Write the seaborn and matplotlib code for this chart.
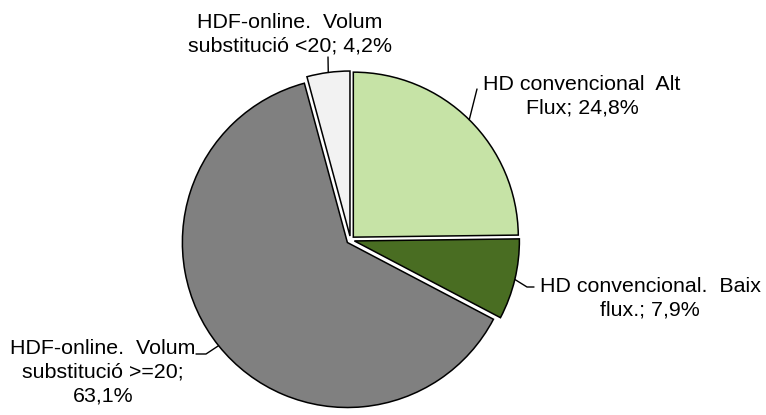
import numpy as np
import matplotlib
matplotlib.use("Agg")
import matplotlib.pyplot as plt
import seaborn as sns

# slices, clockwise from 12 o'clock
names = [
    "HD convencional  Alt\nFlux",
    "HD convencional.  Baix\nflux.",
    "HDF-online.  Volum\nsubstitució >=20",
    "HDF-online.  Volum\nsubstitució <20",
]
values = [24.8, 7.9, 63.1, 4.2]
seps = ["; ", "; ", ";\n", "; "]
slice_colors = ["#C6E3A6", "#496D22", "#808080", "#F2F2F2"]

W, H = 766, 415
CX, CY, R = 350.5, 240, 165   # pie centre / radius in image pixels

# label anchor (centre x, last-line baseline y) and leader elbow points, image pixels
label_pos = [(582, 113), (650, 315), (103, 401), (290, 52)]
leader_pts = [
    [(477, 89)],
    [(527, 287), (534, 287)],
    [(206, 354), (196, 354)],
    [(328, 57)],
]


def fmt(v):
    return f"{v:.1f}".replace(".", ",") + "%"


def main():
    sns.set_theme(style="white")
    plt.rcParams["font.family"] = ["Liberation Sans", "DejaVu Sans"]
    colors = sns.color_palette(slice_colors)

    fig = plt.figure(figsize=(W / 100, H / 100), dpi=100)
    ax = fig.add_axes([0, 0, 1, 1])
    wedges, _ = ax.pie(
        values,
        colors=colors,
        startangle=90,
        counterclock=False,
        explode=[4] * len(values),
        radius=R,
        center=(CX, H - CY),
        wedgeprops=dict(edgecolor="black", linewidth=1.1),
    )
    ax.set_xlim(0, W)
    ax.set_ylim(0, H)
    ax.set_aspect("equal")
    ax.axis("off")

    for w, name, v, sep, (tx, ty), pts in zip(
        wedges, names, values, seps, label_pos, leader_pts
    ):
        mid = np.deg2rad((w.theta1 + w.theta2) / 2)
        x0 = w.center[0] + w.r * np.cos(mid)
        y0 = w.center[1] + w.r * np.sin(mid)
        xs = [x0] + [p[0] for p in pts]
        ys = [y0] + [H - p[1] for p in pts]
        ax.plot(xs, ys, color="black", linewidth=1.0)
        ax.text(
            tx, H - ty, f"{name}{sep}{fmt(v)}",
            ha="center", va="baseline", multialignment="center",
            fontsize=15.4, linespacing=1.3, color="black",
        )

    fig.savefig("out.png", dpi=100, facecolor="white")


if __name__ == "__main__":
    main()
